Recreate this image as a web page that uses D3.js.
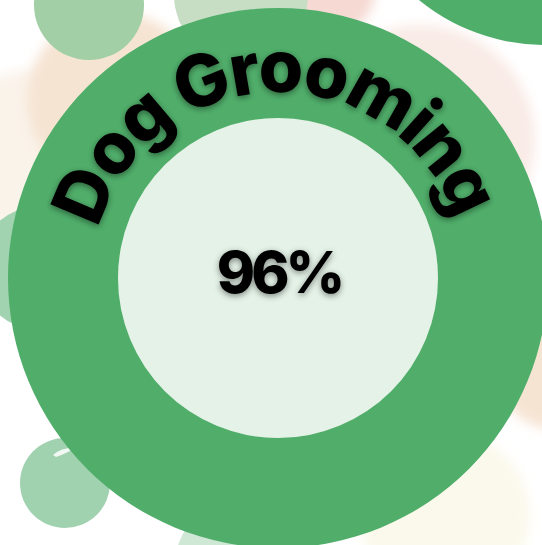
<!DOCTYPE html>
<html>
<head>
<meta charset="utf-8">
<script src="https://cdn.jsdelivr.net/npm/d3@7"></script>
<style>
  html, body { margin: 0; padding: 0; background: #fff; overflow: hidden; }
</style>
</head>
<body>
<div id="chart"></div>
<script>
// chart data
const labels = ["Dog Grooming"]
const values = [96]

// background bubble colours (decoration only)
const bubbleColors = ["#f6e4d3", "#f6d9d2", "#faf3ea", "#f9ebe6", "#c7dec5", "#a2cfa6", "#4fae6a", "#a2d3b1", "#a1d2b0", "#cfe8d6", "#fbf9ec"]

const width = 542
const height = 545
const cx = 278, cy = 278

const svg = d3.select("#chart")
  .append("svg")
    .attr("width", width)
    .attr("height", height)

const defs = svg.append("defs")
defs.append("filter").attr("id", "soft")
  .attr("x", "-30%").attr("y", "-30%").attr("width", "160%").attr("height", "160%")
  .append("feGaussianBlur").attr("stdDeviation", 6)
const shadow = defs.append("filter").attr("id", "shadow")
  .attr("x", "-20%").attr("y", "-20%").attr("width", "140%").attr("height", "140%")
shadow.append("feDropShadow")
  .attr("dx", 0).attr("dy", 2).attr("stdDeviation", 3)
  .attr("flood-color", "#000").attr("flood-opacity", 0.45)

// background bubbles: [x, y, r, colour index, blurred]
const bubbles = [
  [30, 150, 80, 2, true],
  [115, 100, 88, 0, true],
  [330, -10, 45, 1, true],
  [420, 140, 115, 3, true],
  [241, -5, 67, 4, false],
  [89, 5, 55, 5, false],
  [545, -154, 199, 6, false],
  [40, 268, 62, 7, false],
  [65, 483, 45, 8, false],
  [240, 565, 65, 9, false],
  [445, 515, 85, 10, true],
  [560, 360, 70, 0, true]
]

const bg = svg.append("g")
bg.selectAll("circle")
  .data(bubbles)
  .join("circle")
    .attr("cx", d => d[0])
    .attr("cy", d => d[1])
    .attr("r", d => d[2])
    .attr("fill", d => bubbleColors[d[3]])
    .attr("filter", d => d[4] ? "url(#soft)" : null)

// little highlight on the bottom-left bubble
bg.append("path")
  .attr("d", "M 53 455 Q 60 448 76 447 Q 70 452 56 457 Z")
  .attr("fill", "#f1f7f2")

// the ring
const rOuter = 270, rInner = 160
const angle = d3.scaleLinear().domain([0, 100]).range([0, 2 * Math.PI])
const arc = d3.arc().innerRadius(rInner).outerRadius(rOuter)

const g = svg.append("g").attr("transform", `translate(${cx},${cy})`)

g.append("circle")
  .attr("r", rInner)
  .attr("fill", "#e4f2e7")

// full ring is drawn, as in the original (no gap for the remainder)
g.append("path")
  .attr("d", arc({ startAngle: angle(0), endAngle: angle(100) }))
  .attr("fill", "#50ae6a")

// curved label
const rText = 186
defs.append("path")
  .attr("id", "labelArc")
  .attr("d", `M ${cx - rText} ${cy} A ${rText} ${rText} 0 0 1 ${cx + rText} ${cy}`)

svg.append("text")
  .attr("font-family", "Inter, 'DejaVu Sans', sans-serif")
  .attr("font-weight", 800)
  .attr("font-size", 72)
  .attr("letter-spacing", -3)
  .attr("fill", "#000")
  .attr("filter", "url(#shadow)")
  .append("textPath")
    .attr("href", "#labelArc")
    .attr("startOffset", "49%")
    .attr("text-anchor", "middle")
    .text(labels[0])

// centre value
g.append("text")
  .attr("x", 1)
  .attr("y", 15)
  .attr("text-anchor", "middle")
  .attr("font-family", "Inter, 'DejaVu Sans', sans-serif")
  .attr("font-weight", 800)
  .attr("font-size", 58)
  .attr("letter-spacing", -4)
  .attr("fill", "#000")
  .attr("filter", "url(#shadow)")
  .text(values[0] + "%")
</script>
</body>
</html>
